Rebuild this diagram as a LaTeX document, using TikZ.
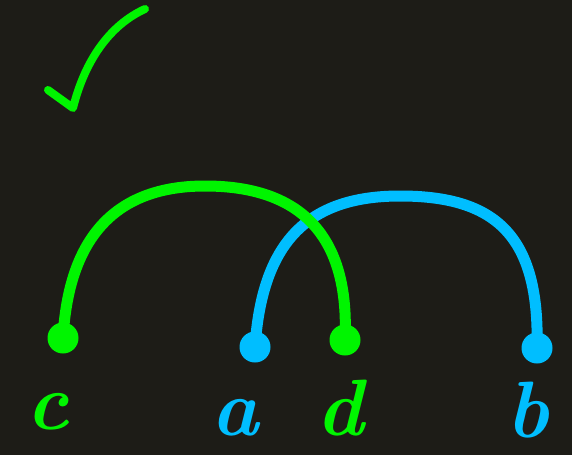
\documentclass[tikz,border=0pt]{standalone}
\begin{document}
\begin{tikzpicture}[x=1pt,y=-1pt,
  every node/.style={inner sep=0pt,outer sep=0pt},
  dot/.style={circle,minimum size=31pt},
  arcline/.style={line width=11pt,line cap=round},
  letter/.style={font=\fontsize{80}{80}\selectfont\bfseries\itshape}]
\definecolor{bg}{RGB}{29,28,23}
\definecolor{gr}{RGB}{0,245,0}
\definecolor{bl}{RGB}{0,190,255}
\fill[bg] (0,0) rectangle (572,455);
\useasboundingbox (0,0) rectangle (572,455);
% checkmark
\draw[gr,line width=8pt,line cap=round,line join=round]
  (48,90) -- (73,108) .. controls (85,60) and (110,25) .. (145,9);
% dots
\node[dot,fill=gr] (cdot) at (63,338) {};
\node[dot,fill=gr] (ddot) at (345,340) {};
\node[dot,fill=bl] (adot) at (255,347) {};
\node[dot,fill=bl] (bdot) at (537,348) {};
% arcs (blue below, green on top)
\draw[arcline,bl] (adot.center) .. controls (262,245) and (305,196) .. (400,196)
  .. controls (495,196) and (540,235) .. (bdot.center);
\draw[arcline,gr] (cdot.center) .. controls (68,250) and (105,186) .. (205,186)
  .. controls (300,186) and (350,235) .. (ddot.center);
% letters
\node[letter,text=gr] (c) at (48,412) {c};
\node[letter,text=bl] (a) at (235,418) {a};
\node[letter,text=gr] (d) at (340,408) {d};
\node[letter,text=bl] (b) at (528,410) {b};
\end{tikzpicture}
\end{document}
